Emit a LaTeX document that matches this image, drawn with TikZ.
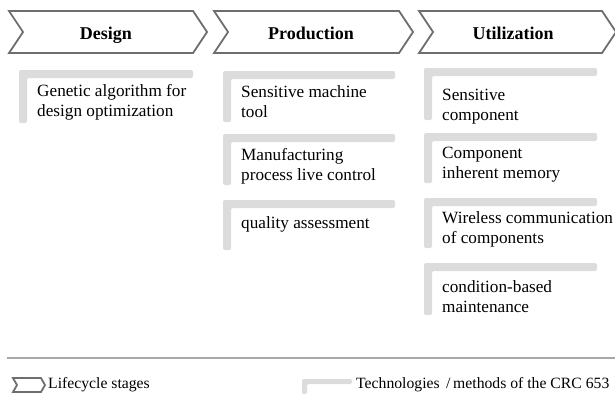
\documentclass[tikz,border=0pt]{standalone}
\usepackage{fontspec}
\setmainfont{Liberation Serif}
\definecolor{chev}{HTML}{6E6E6E}
\definecolor{barg}{HTML}{DCDCDC}
\definecolor{sepg}{HTML}{A8A8A8}
\newcommand\techL[5]{% x1 x2 y1 y2 thickness
  \fill[techbar] (#1,#3) -- (#2,#3) -- (#2,#3+#5) -- (#1+#5,#3+#5) -- (#1+#5,#4) -- (#1,#4) -- cycle;}
\newcommand\stageC[6]{% L R T B M d
  \draw[stage] (#1,#3) -- (#2-#6,#3) -- (#2,#5) -- (#2-#6,#4) -- (#1,#4) -- (#1+#6,#5) -- cycle;}
\tikzset{
  stage/.style={draw=chev, line width=1.8pt, line join=miter},
  stagelabel/.style={font=\fontsize{18}{20}\selectfont\bfseries, inner sep=0pt, anchor=base},
  techbar/.style={fill=barg, rounded corners=2pt},
  techtext/.style={font=\fontsize{17.2}{20}\selectfont, align=left, anchor=west, inner sep=0pt},
  legtext/.style={font=\fontsize{15.7}{18}\selectfont, anchor=west, inner sep=0pt},
}
\begin{document}
\begin{tikzpicture}[x=1pt,y=-1pt]
\useasboundingbox (0,0) rectangle (615,394);
% lifecycle stages
\stageC{9}{207}{11}{53}{32}{14}
\stageC{214}{413}{11}{53}{32}{14}
\stageC{419}{616}{11}{53}{32}{14}
\node[stagelabel] (design) at (106,39) {Design};
\node[stagelabel] (production) at (311,39) {Production};
\node[stagelabel] (utilization) at (513,39) {Utilization};
% design
\techL{19}{193}{70}{123}{8}
\node[techtext] (ga) at (37,102) {Genetic algorithm for\\design optimization};
% production
\techL{223}{395}{71}{122}{8}
\node[techtext] (smt) at (241,102) {Sensitive machine\\tool};
\techL{223}{395}{134}{185}{8}
\node[techtext] (mpl) at (241,166) {Manufacturing\\process live control};
\techL{223}{395}{200}{250}{8}
\node[techtext] (qa) at (241,224) {quality assessment};
% utilization
\techL{424}{597}{68}{120}{8}
\node[techtext] (sc) at (442,107) {Sensitive\\component};
\techL{424}{597}{133}{183}{8}
\node[techtext] (cim) at (442,165) {Component\\inherent memory};
\techL{424}{597}{198}{248}{8}
\node[techtext] (wcc) at (442,229) {Wireless communication\\of components};
\techL{424}{597}{263}{315}{8}
\node[techtext] (cbm) at (442,297) {condition-based\\maintenance};
% separator
\coordinate (sepL) at (7,358);
\coordinate (sepR) at (615,358);
\draw[sepg, line width=2pt] (sepL) -- (sepR);
% legend
\stageC{13}{45}{378}{392}{385}{4}
\node[legtext] (leg1) at (48,385) {Lifecycle stages};
\techL{302}{352}{379}{394}{5}
\node[legtext] (leg2) at (356,385) {Technologies\, /\,methods of the CRC 653};
\end{tikzpicture}
\end{document}
